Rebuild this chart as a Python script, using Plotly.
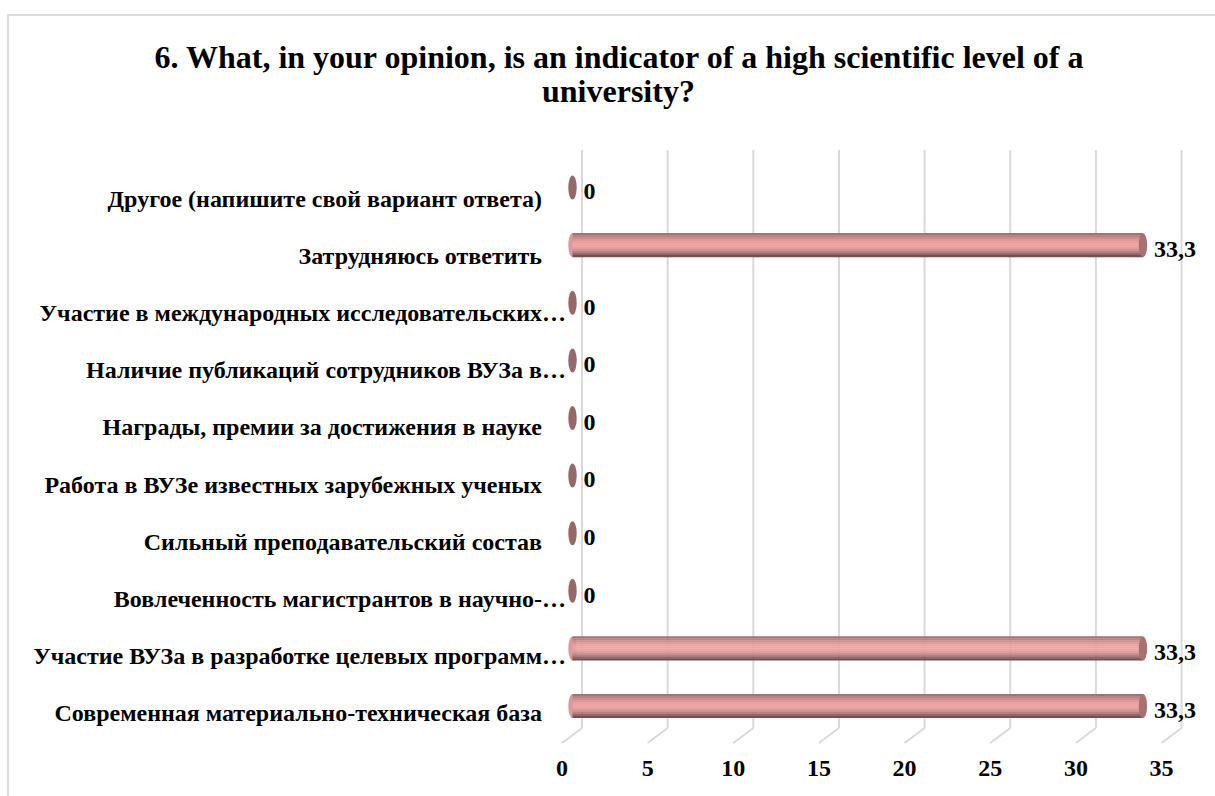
import plotly.graph_objects as go

W, H = 1215, 796
TITLE_LINE_1 = "6. What, in your opinion, is an indicator of a high scientific level of a"
TITLE_LINE_2 = "university?"
CATEGORIES = [
    "Современная материально-техническая база",
    "Участие ВУЗа в разработке целевых программ…",
    "Вовлеченность магистрантов в научно-…",
    "Сильный преподавательский состав",
    "Работа в ВУЗе известных зарубежных ученых",
    "Награды, премии за достижения в науке",
    "Наличие публикаций сотрудников ВУЗа в…",
    "Участие в международных исследовательских…",
    "Затрудняюсь ответить",
    "Другое (напишите свой вариант ответа)",
]
VALUES = [33.3, 33.3, 0, 0, 0, 0, 0, 0, 33.3, 0]
VALUE_LABELS = ["33,3", "33,3", "0", "0", "0", "0", "0", "0", "33,3", "0"]
TICKS = [0, 5, 10, 15, 20, 25, 30, 35]
STRIPES = ["#a87272", "#bb8383", "#cc8d8d", "#dc9797", "#e8a0a0", "#eea5a5", "#eda4a4",
           "#e29d9d", "#d09191", "#b68080", "#94686a", "#735050"]

FONT = "Liberation Serif"
k = 17.13                # px per unit
x_front, x_bar, x_back = 562.0, 572.5, 582.0
y_floor_front, y_floor_back, y_grid_top = 743.0, 728.0, 150.0
row, y_row0 = 57.6, 706.0
lrow, y_lab0 = 57.2, 713.0
bar_h = 24 / row
rx = 4.2 / k


def xr(x0):
    return [(0 - x0) / k, (W - x0) / k]


def yr(y0, step):
    return [(y0 - H) / step, y0 / step]


def labeled(c):
    return c if c.endswith("…") else c + "\u00a0" * 4


fig = go.Figure()
n = len(STRIPES)
idx = list(range(len(CATEGORIES)))
for s, col in enumerate(STRIPES):
    fig.add_trace(go.Bar(
        orientation="h", y=idx, x=VALUES, width=bar_h / n + 0.002,
        offset=bar_h / 2 - (s + 1) * bar_h / n,
        marker=dict(color=col, line=dict(width=0)),
        xaxis="x2", yaxis="y", showlegend=False, hoverinfo="skip",
    ))
fig.add_trace(go.Scatter(
    x=[v + 0.64 for v in VALUES], y=[i - 0.1 for i in idx], mode="text", text=VALUE_LABELS,
    textposition="middle right",
    textfont=dict(family=FONT, size=24, color="#000000", weight="bold"),
    xaxis="x2", yaxis="y", showlegend=False, hoverinfo="skip", cliponaxis=False,
))
# carrier that makes the tick-label axes exist
fig.add_trace(go.Scatter(x=TICKS, y=[CATEGORIES[0]] * len(TICKS), mode="markers",
                         marker=dict(opacity=0), xaxis="x", yaxis="y2",
                         showlegend=False, hoverinfo="skip"))

shapes = [
    dict(type="line", xref="paper", yref="paper", x0=8 / W, x1=8 / W, y0=0, y1=1 - 15 / H,
         line=dict(color="#dcdcdc", width=2)),
    dict(type="line", xref="paper", yref="paper", x0=7 / W, x1=1, y0=1 - 15 / H, y1=1 - 15 / H,
         line=dict(color="#dcdcdc", width=2)),
]
dx = (x_back - x_front) / k
for t in TICKS:
    shapes.append(dict(type="line", layer="below", xref="x", yref="paper", x0=t + dx, x1=t + dx,
                       y0=1 - y_floor_back / H, y1=1 - y_grid_top / H,
                       line=dict(color="#d9d9d9", width=2)))
    shapes.append(dict(type="line", layer="below", xref="x", yref="paper", x0=t, x1=t + dx,
                       y0=1 - y_floor_front / H, y1=1 - y_floor_back / H,
                       line=dict(color="#d9d9d9", width=2)))
for i, v in zip(idx, VALUES):
    hh = bar_h / 2
    if v > 0:
        shapes.append(dict(type="circle", layer="below", xref="x2", yref="y", x0=-rx, x1=rx,
                           y0=i - hh, y1=i + hh, fillcolor="#d99a9a", line=dict(width=0)))
        shapes.append(dict(type="circle", layer="above", xref="x2", yref="y", x0=v - rx, x1=v + rx,
                           y0=i - hh, y1=i + hh, fillcolor="#a87070", line=dict(width=0)))
    else:
        shapes.append(dict(type="circle", layer="above", xref="x2", yref="y", x0=v - rx, x1=v + rx,
                           y0=i - hh, y1=i + hh, fillcolor="#96686a", line=dict(width=0)))

fig.update_layout(
    width=W, height=H, margin=dict(l=0, r=0, t=0, b=0),
    paper_bgcolor="#ffffff", plot_bgcolor="rgba(0,0,0,0)",
    barmode="overlay", showlegend=False, shapes=shapes,
    title=dict(text=TITLE_LINE_1, x=619 / W, xanchor="center", y=1 - 57 / H, yanchor="middle",
               font=dict(family=FONT, size=32, color="#000000", weight="bold")),
    annotations=[dict(text=TITLE_LINE_2, xref="paper", yref="paper", x=619 / W, y=1 - 91 / H,
                      xanchor="center", yanchor="middle", showarrow=False,
                      font=dict(family=FONT, size=32, color="#000000", weight="bold"))],
    font=dict(family=FONT),
    xaxis=dict(range=xr(x_front), tickvals=TICKS, showgrid=False, zeroline=False, showline=False,
               anchor="free", position=1 - y_floor_front / H, side="bottom", ticks="outside",
               ticklen=3, tickcolor="rgba(0,0,0,0)",
               tickfont=dict(family=FONT, size=24, color="#000000", weight="bold")),
    xaxis2=dict(range=xr(x_bar), overlaying="x", visible=False, anchor="y"),
    yaxis=dict(range=yr(y_row0, row), visible=False, anchor="x2"),
    yaxis2=dict(type="category", categoryorder="array", categoryarray=CATEGORIES,
                tickmode="array", tickvals=CATEGORIES, ticktext=[labeled(c) for c in CATEGORIES],
                range=yr(y_lab0, lrow), overlaying="y", anchor="free", position=566 / W, side="left",
                showgrid=False, zeroline=False, showline=False, ticks="",
                tickfont=dict(family=FONT, size=24, color="#000000", weight="bold")),
)

fig.write_html("out.html", post_script="document.body.style.margin='0';",
               config={"displayModeBar": False})
